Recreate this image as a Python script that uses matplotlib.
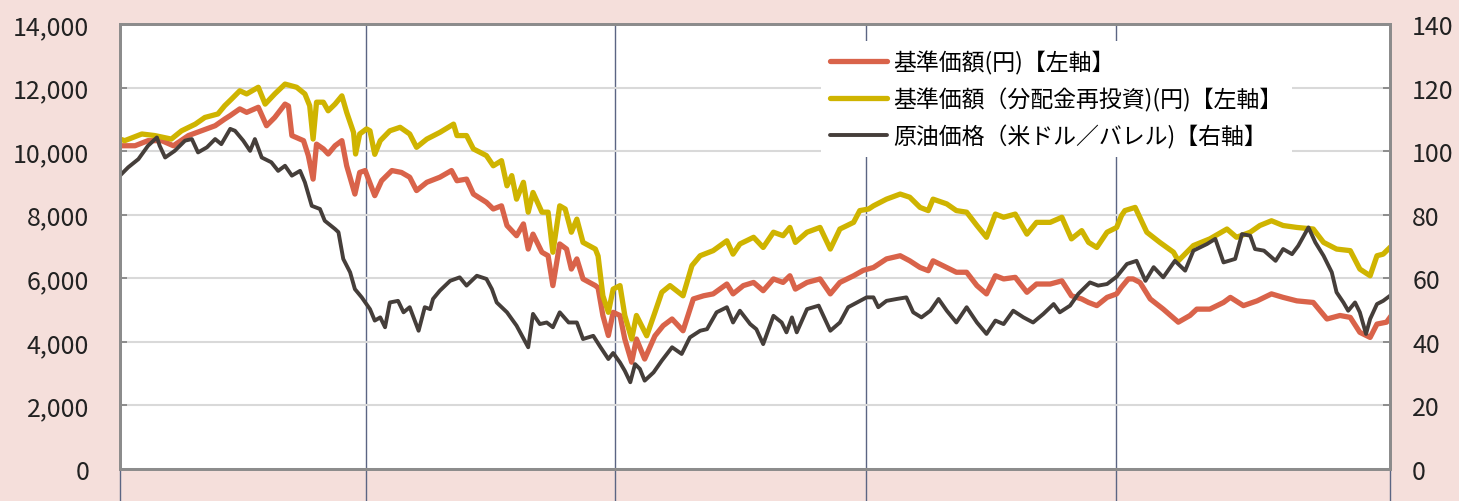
import matplotlib.pyplot as plt
from matplotlib.ticker import FuncFormatter

plt.rcParams['font.family'] = ['Noto Sans CJK JP', 'DejaVu Sans']

# days from the start of the chart
nav_days = [0, 22, 41, 61, 78, 100, 119, 139, 153, 161, 175, 185, 202, 214, 226, 241, 246, 251,
            268, 275, 282, 287, 297, 304, 314, 324, 331, 343, 350, 358, 372, 382, 397, 411, 423,
            433, 448, 467, 484, 492, 506, 516, 535, 545, 557, 565, 579, 589, 596, 603, 616, 625,
            632, 642, 652, 659, 667, 676, 694, 698, 705, 713, 720, 730, 737, 747, 754, 766, 781,
            793, 806, 822, 837, 852, 866, 886, 895, 910, 925, 939, 954, 968, 978, 986, 1003, 1022,
            1037, 1051, 1071, 1085, 1100, 1119, 1139, 1153, 1168, 1180, 1187, 1207, 1221, 1236,
            1251, 1265, 1278, 1290, 1307, 1324, 1338, 1358, 1375, 1389, 1404, 1414, 1426, 1441,
            1455, 1462, 1472, 1479, 1489, 1504, 1523, 1545, 1562, 1572, 1591, 1611, 1621, 1640,
            1660, 1681, 1698, 1718, 1742, 1762, 1781, 1796, 1810, 1825, 1835, 1849, 1854]
nav_yen = [10170, 10170, 10330, 10330, 10170, 10490, 10640, 10800, 11010, 11120, 11330, 11220,
           11380, 10800, 11060, 11480, 11420, 10490, 10330, 9860, 9120, 10220, 10070, 9910, 10170,
           10330, 9540, 8650, 9330, 9390, 8600, 9070, 9390, 9330, 9180, 8760, 9020, 9180, 9390,
           9070, 9120, 8650, 8390, 8180, 8280, 7660, 7340, 7710, 6920, 7390, 6820, 6710, 5770,
           7080, 6920, 6290, 6610, 5980, 5770, 5700, 4830, 4200, 4930, 4830, 4090, 3360, 4090,
           3460, 4190, 4510, 4720, 4350, 5350, 5450, 5510, 5820, 5510, 5770, 5870, 5610, 5980,
           5870, 6080, 5660, 5870, 5980, 5510, 5870, 6080, 6250, 6340, 6610, 6710, 6550, 6340,
           6240, 6550, 6340, 6190, 6190, 5770, 5510, 6080, 5980, 6030, 5560, 5820, 5820, 5920,
           5450, 5350, 5240, 5140, 5400, 5510, 5720, 5980, 5980, 5870, 5350, 5030, 4620, 4830,
           5030, 5030, 5240, 5400, 5140, 5290, 5510, 5400, 5290, 5240, 4720, 4830, 4770, 4300,
           4140, 4560, 4620, 4770]

reinv_days = [0, 7, 32, 51, 75, 90, 110, 124, 143, 153, 163, 175, 185, 202, 212, 226, 241, 258,
              270, 277, 282, 287, 297, 304, 314, 324, 331, 341, 344, 350, 360, 365, 372, 380, 394,
              409, 423, 433, 448, 467, 487, 492, 506, 516, 535, 545, 557, 565, 572, 579, 589, 596,
              603, 616, 625, 632, 642, 650, 659, 667, 676, 694, 698, 705, 713, 720, 730, 737, 747,
              754, 769, 781, 791, 803, 822, 835, 847, 866, 886, 895, 905, 925, 939, 954, 968, 978,
              986, 1003, 1022, 1037, 1051, 1071, 1080, 1093, 1100, 1119, 1139, 1153, 1168, 1180,
              1187, 1207, 1221, 1236, 1251, 1265, 1278, 1290, 1307, 1324, 1338, 1358, 1375, 1389,
              1404, 1414, 1426, 1441, 1455, 1462, 1467, 1482, 1499, 1518, 1538, 1545, 1567, 1591,
              1616, 1630, 1650, 1664, 1681, 1698, 1718, 1742, 1757, 1776, 1796, 1810, 1825, 1835,
              1844, 1854]
reinv_yen = [10380, 10330, 10540, 10490, 10380, 10640, 10850, 11060, 11170, 11430, 11640, 11900,
             11800, 12010, 11480, 11800, 12110, 12010, 11800, 11430, 10380, 11540, 11540, 11270,
             11480, 11740, 11220, 10590, 9910, 10540, 10700, 10640, 9900, 10330, 10640, 10750,
             10540, 10120, 10380, 10590, 10850, 10490, 10490, 10070, 9860, 9540, 9700, 8910, 9230,
             8490, 9020, 8080, 8700, 8080, 8080, 6820, 8280, 8180, 7450, 7860, 7130, 6920, 6700,
             5450, 4930, 5660, 5770, 4830, 4090, 4830, 4190, 4930, 5560, 5770, 5450, 6400, 6710,
             6870, 7180, 6760, 7080, 7290, 6970, 7450, 7340, 7600, 7130, 7450, 7600, 6920, 7550,
             7760, 8130, 8180, 8280, 8490, 8650, 8550, 8230, 8130, 8490, 8340, 8130, 8080, 7660,
             7290, 8020, 7920, 8020, 7390, 7760, 7760, 7920, 7240, 7500, 7130, 6970, 7450, 7600,
             7970, 8130, 8230, 7450, 7130, 6820, 6550, 7030, 7240, 7550, 7290, 7450, 7660, 7810,
             7660, 7600, 7550, 7130, 6920, 6870, 6290, 6080, 6710, 6760, 6970]

oil_days = [0, 12, 27, 41, 54, 58, 66, 80, 95, 105, 114, 127, 139, 148, 161, 168, 180, 190, 197,
            207, 221, 231, 241, 251, 263, 270, 280, 292, 299, 314, 319, 326, 336, 343, 353, 365,
            372, 380, 387, 394, 406, 414, 423, 436, 445, 453, 457, 467, 482, 496, 506, 521, 535,
            543, 550, 565, 579, 596, 603, 613, 623, 632, 642, 655, 667, 676, 691, 701, 713, 720,
            730, 737, 745, 752, 759, 766, 779, 791, 806, 820, 832, 847, 857, 871, 886, 895, 905,
            920, 929, 939, 954, 966, 973, 981, 988, 1003, 1020, 1037, 1051, 1063, 1076, 1090, 1100,
            1107, 1119, 1134, 1148, 1158, 1170, 1183, 1195, 1207, 1221, 1236, 1251, 1265, 1278,
            1290, 1304, 1319, 1333, 1348, 1363, 1372, 1387, 1399, 1416, 1428, 1441, 1455, 1470,
            1484, 1497, 1509, 1523, 1540, 1555, 1567, 1587, 1599, 1611, 1628, 1638, 1650, 1657,
            1670, 1687, 1698, 1711, 1720, 1735, 1745, 1757, 1769, 1776, 1786, 1793, 1803, 1810,
            1819, 1825, 1835, 1844, 1854]
oil_usd = [92.3, 94.9, 97.5, 101.7, 104.3, 101.7, 98.0, 100.1, 103.3, 103.8, 99.6, 101.2, 103.8,
           102.2, 107.0, 106.4, 103.3, 100.1, 103.8, 98.0, 96.5, 93.8, 95.4, 92.3, 93.8, 90.2,
           82.8, 81.8, 78.1, 75.5, 74.5, 66.1, 61.9, 56.6, 54.0, 50.3, 46.7, 47.7, 44.6, 52.4,
           52.9, 49.3, 50.9, 43.5, 50.9, 50.3, 53.5, 56.1, 59.2, 60.3, 57.7, 60.8, 59.8, 56.6,
           52.4, 49.3, 45.1, 38.3, 48.8, 45.6, 46.1, 44.6, 49.3, 46.1, 46.1, 40.9, 41.9, 38.5,
           34.6, 36.5, 33.5, 30.9, 27.3, 33.0, 31.5, 27.8, 30.4, 34.1, 38.3, 36.2, 41.4, 43.5,
           44.0, 49.3, 50.9, 46.1, 49.8, 45.6, 44.0, 39.3, 48.2, 46.1, 43.0, 47.7, 43.0, 50.3,
           51.4, 43.5, 46.1, 50.9, 52.4, 54.0, 54.0, 50.9, 52.9, 53.5, 54.0, 49.3, 47.7, 49.8,
           53.5, 49.8, 46.1, 50.9, 46.1, 42.5, 46.7, 45.6, 49.8, 47.7, 46.1, 48.8, 51.9, 49.3,
           51.4, 55.1, 58.7, 57.7, 58.2, 60.5, 64.5, 65.5, 59.2, 63.5, 60.3, 65.5, 62.4, 68.7,
           70.8, 72.4, 65.0, 66.1, 73.9, 73.4, 69.2, 68.7, 65.5, 69.2, 67.6, 70.2, 76.0, 71.3,
           67.1, 61.9, 55.6, 52.4, 49.8, 52.4, 49.3, 42.5, 47.2, 51.9, 52.9, 54.5]

year_ticks = [0, 359, 723, 1089, 1454, 1854]
labels = ['基準価額(円)【左軸】', '基準価額（分配金再投資)(円)【左軸】', '原油価格（米ドル／バレル)【右軸】']

bg = '#f5dfdb'
spine_col = '#8c8c8c'
vline_col = '#5b6583'

fig = plt.figure(figsize=(14.59, 5.02), dpi=100, facecolor=bg)
ax = fig.add_axes([0.0822, 0.0637, 0.8705, 0.8865])
ax.set_facecolor('white')

l1, = ax.plot(nav_days, nav_yen, color='#d9634a', linewidth=3.8, solid_joinstyle='round')
l2, = ax.plot(reinv_days, reinv_yen, color='#cfb400', linewidth=3.8, solid_joinstyle='round')

ax.set_xlim(year_ticks[0], year_ticks[-1])
ax.set_ylim(0, 14000)
ax.set_yticks(range(0, 14001, 2000))
ax.yaxis.set_major_formatter(FuncFormatter(lambda v, p: f'{int(v):,}'))
ax.set_xticks(year_ticks)
ax.set_xticklabels([])
ax.tick_params(axis='x', direction='out', length=23, width=1, color=vline_col)
ax.tick_params(axis='y', direction='in', length=5, width=1.4, color=spine_col,
               labelsize=18, pad=22, labelcolor='#222222')
ax.grid(axis='y', color='#d9d9d9', linewidth=1.5)
ax.grid(axis='x', color=vline_col, linewidth=1)
ax.set_axisbelow(True)
for s in ax.spines.values():
    s.set_color(spine_col)
    s.set_linewidth(2)

ax2 = ax.twinx()
l3, = ax2.plot(oil_days, oil_usd, color='#453e3a', linewidth=2.8, solid_joinstyle='round')
ax2.set_ylim(0, 140)
ax2.set_yticks(range(0, 141, 20))
ax2.tick_params(axis='y', direction='in', length=5, width=1.4, color=spine_col,
                labelsize=18, pad=16, labelcolor='#222222')
for s in ax2.spines.values():
    s.set_color(spine_col)
    s.set_linewidth(2)

leg = ax2.legend([l1, l2, l3], labels, loc='upper left', bbox_to_anchor=(0.552, 0.962),
                 fontsize=16.5, frameon=True, facecolor='white', edgecolor='none',
                 framealpha=1, fancybox=False, handlelength=2.5, handletextpad=0.25,
                 labelspacing=0.55, borderaxespad=0)
leg.get_frame().set_linewidth(0)
for h in leg.get_lines():
    h.set_solid_capstyle('round')
leg.set_zorder(10)

fig.savefig('out.png', dpi=100, facecolor=bg)
